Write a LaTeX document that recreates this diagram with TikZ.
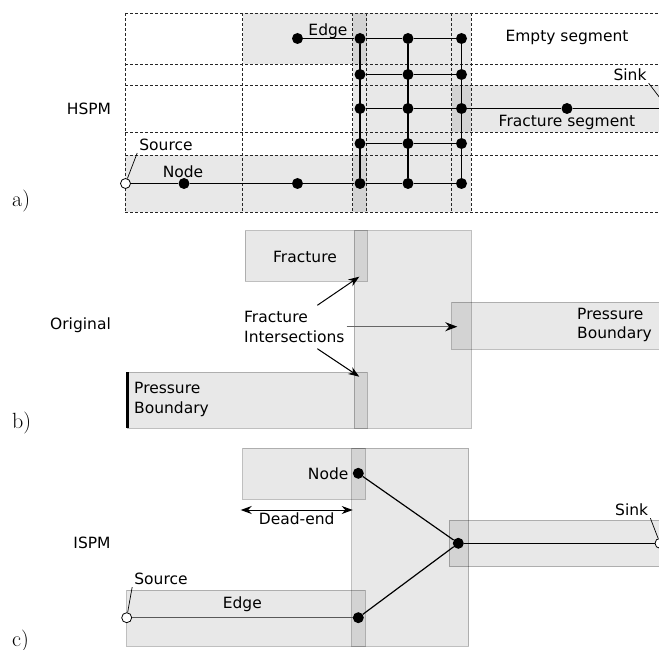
\documentclass[tikz,border=0pt]{standalone}
\usepackage{fontspec}
\usepackage{tikz}
\usetikzlibrary{arrows.meta,positioning,calc}
\newfontfamily\dejavu{DejaVu Sans}

\begin{document}
\begin{tikzpicture}[x=1pt,y=-1pt,
    frac/.style={fill=black, fill opacity=0.09, draw=black, draw opacity=0.25,
                 line width=1pt},
    fracfill/.style={fill=black, fill opacity=0.09},
    grid/.style={draw=black!85, line width=0.8pt, dash pattern=on 3pt off 2pt},
    dot/.style={circle, fill=black, inner sep=0pt, minimum size=11pt},
    port/.style={circle, draw=black, fill=white, inner sep=0pt,
                 minimum size=10pt, line width=0.8pt},
    txt/.style={font=\dejavu\fontsize{15.5}{19.5}\selectfont, inner sep=2pt},
    tag/.style={font=\fontsize{22}{26}\selectfont, anchor=base west, inner sep=0pt},
    link/.style={line width=1.2pt},
    pointer/.style={line width=1pt, -{Stealth[length=11pt,width=8pt]}},
    leader/.style={line width=0.7pt},
]
\useasboundingbox (0,0) rectangle (659,650);
\clip (0,0) rectangle (659,650);

% a) HSPM
\fill[fracfill] (242.7,13) rectangle (366.7,64);
\fill[fracfill] (352.7,13) rectangle (471,212);
\fill[fracfill] (451.7,85) rectangle (665,132);
\fill[fracfill] (125,155) rectangle (366.7,212);
\foreach \y in {13,64,85,132,155,212}
    \draw[grid] (125,\y) -- (659,\y);
\foreach \x in {125,242.7,352.7,366.7,451.7,471}
    \draw[grid] (\x,13) -- (\x,212);

\foreach \r/\y in {1/38.5,2/74.5,3/108.5,4/143.5,5/183.5}
    \foreach \c/\x in {1/360,2/408,3/461.5}
        \node[dot] (a\r\c) at (\x,\y) {};
\node[dot] (aedge) at (297.5,38.5) {};
\node[port] (asrc) at (125.5,183.5) {};
\node[dot] (anode) at (184,183.5) {};
\node[dot] (amid) at (297.5,183.5) {};
\node[dot] (afrac) at (567,108.5) {};
\node[port] (asink) at (668,108.5) {};

\foreach \r in {1,...,5}
    \draw[link] (a\r1) -- (a\r2) -- (a\r3);
\foreach \c in {1,2,3}
    \draw[link] (a1\c) -- (a5\c);
\draw[link] (aedge) -- (a11);
\draw[link] (asrc) -- (anode) -- (amid) -- (a51);
\draw[link] (a33) -- (afrac) -- (asink);

\node[txt] (hspm) at (89,109) {HSPM};
\node[txt] (aedgelbl) at (328,31) {Edge};
\node[txt] (anodelbl) at (183,172) {Node};
\node[txt] (asrclbl) at (166,145) {Source};
\node[txt] (aempty) at (567,37.5) {Empty segment};
\node[txt] (afraclbl) at (567,122) {Fracture segment};
\node[txt] (asinklbl) at (630,75) {Sink};
\draw[leader] (asrc) -- (asrclbl.south west);
\draw[leader] (asinklbl.south east) -- (asink);
\node[tag] (la) at (12,207) {a)};

% b) Original
\draw[frac] (245,230.7) rectangle (367.3,281.3);
\draw[frac] (354.3,230.7) rectangle (471,428.3);
\draw[frac] (451.7,302.3) rectangle (665,349);
\draw[frac] (127.3,372) rectangle (367.3,428.3);
\draw[line width=3pt] (127.3,372) -- (127.3,428.3);

\node[txt] (orig) at (80.5,325) {Original};
\node[txt] (bfrac) at (305,256.5) {Fracture};
\node[txt, align=left, anchor=west] (inter) at (242,327) {Fracture\\Intersections};
\node[txt, align=left, anchor=west] (bpleft) at (132,399.5) {Pressure\\Boundary};
\node[txt, align=left, anchor=west] (bpright) at (575,325) {Pressure\\Boundary};
\coordinate (ixtop) at (359.3,276.7);
\coordinate (ixbot) at (359.3,376.7);
\coordinate (ixright) at (457.3,326.7);
\draw[pointer] ($(inter.north)+(23,-4)$) -- (ixtop);
\draw[pointer] ($(inter.south)+(23,4)$) -- (ixbot);
\draw[pointer, line width=1.4pt, draw=black!60,
      -{Stealth[length=12pt,width=9pt,color=black]}]
    (inter.east |- ixright) -- (ixright);
\node[tag] (lb) at (12,428) {b)};

% c) ISPM
\draw[frac] (242.7,448.3) rectangle (365.3,499.3);
\draw[frac] (351.7,448.3) rectangle (468.7,646);
\draw[frac] (449.3,520) rectangle (665,566.7);
\draw[frac] (126.7,590) rectangle (365.3,646);

\node[dot] (ctop) at (358.3,473.3) {};
\node[dot] (cbot) at (358.3,617.7) {};
\node[dot] (cjoin) at (458.3,543.3) {};
\node[port] (csrc) at (126.7,617.7) {};
\node[port] (csink) at (660,543.3) {};
\draw[link, draw=black!65] (csrc) -- (cbot);
\draw[link] (ctop) -- (cjoin);
\draw[link] (cbot) -- (cjoin);
\draw[link] (cjoin) -- (csink);

\node[txt] (ispm) at (92,543) {ISPM};
\node[txt, left=2pt of ctop] (cnodelbl) {Node};
\node[txt] (cedgelbl) at (242.3,604) {Edge};
\node[txt] (csrclbl) at (161,579) {Source};
\node[txt] (csinklbl) at (631.7,510) {Sink};
\draw[leader] (csrc) -- (csrclbl.south west);
\draw[leader] (csinklbl.south east) -- (csink);
\coordinate (deadl) at (240.7,510);
\coordinate (deadr) at (352.7,510);
\draw[line width=1pt, {Stealth[length=11pt,width=8pt]}-{Stealth[length=11pt,width=8pt]}]
    (deadl) -- (deadr);
\node[txt, below=1pt of $(deadl)!0.5!(deadr)$] (deadlbl) {Dead-end};
\node[tag] (lc) at (12,646) {c)};

\end{tikzpicture}
\end{document}
